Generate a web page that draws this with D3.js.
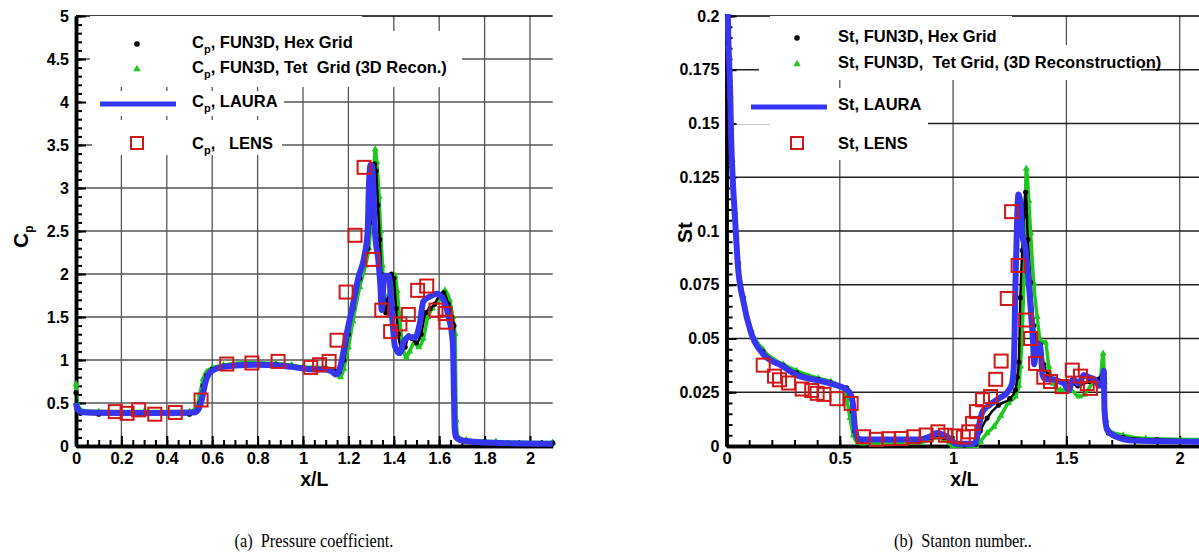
<!DOCTYPE html>
<html>
<head>
<meta charset="utf-8">
<script src="https://cdn.jsdelivr.net/npm/d3@7"></script>
<style>
  body { margin: 0; background: #fff; }
  svg { display: block; font-family: "Liberation Sans", Arial, Helvetica, sans-serif; }
</style>
</head>
<body>
<svg id="chart" width="1199" height="552"></svg>
<script>
// ---- values: [x/L, value] ----

// (a) pressure coefficient
const cpHex = [[0,0.62],[0.005,0.45],[0.02,0.38],[0.1,0.37],[0.3,0.37],[0.5,0.37],[0.53,0.40],[0.545,0.5],[0.56,0.7],[0.575,0.82],[0.6,0.89],[0.65,0.93],[0.75,0.95],[0.88,0.95],[0.95,0.93],[1.0,0.91],[1.1,0.9],[1.14,0.87],[1.16,0.86],[1.18,1.0],[1.2,1.3],[1.22,1.6],[1.25,1.95],[1.27,2.15],[1.285,2.3],[1.295,2.6],[1.305,3.0],[1.315,3.28],[1.322,3.2],[1.33,2.8],[1.338,2.4],[1.345,2.0],[1.355,1.7],[1.365,1.55],[1.375,1.7],[1.39,2.0],[1.4,1.95],[1.41,1.6],[1.42,1.3],[1.435,1.12],[1.45,1.15],[1.465,1.28],[1.48,1.25],[1.5,1.2],[1.52,1.3],[1.54,1.55],[1.56,1.6],[1.58,1.65],[1.6,1.75],[1.62,1.78],[1.64,1.65],[1.655,1.5],[1.665,1.4],[1.668,0.45],[1.672,0.15],[1.69,0.08],[1.8,0.05],[2.1,0.035]];
const cpTet = [[0,0.72],[0.005,0.5],[0.02,0.42],[0.1,0.40],[0.3,0.40],[0.5,0.40],[0.53,0.45],[0.545,0.6],[0.56,0.78],[0.575,0.86],[0.6,0.91],[0.65,0.94],[0.75,0.97],[0.88,0.96],[0.95,0.94],[1.0,0.92],[1.1,0.91],[1.14,0.88],[1.165,0.8],[1.18,0.9],[1.2,1.15],[1.22,1.45],[1.25,1.85],[1.275,2.1],[1.29,2.3],[1.3,2.6],[1.31,3.0],[1.318,3.45],[1.325,3.3],[1.335,2.9],[1.342,2.5],[1.35,2.1],[1.36,1.75],[1.375,1.6],[1.39,1.8],[1.405,1.98],[1.415,1.8],[1.425,1.5],[1.44,1.15],[1.455,1.03],[1.47,1.1],[1.49,1.2],[1.51,1.15],[1.53,1.25],[1.55,1.5],[1.57,1.6],[1.6,1.7],[1.625,1.81],[1.645,1.7],[1.66,1.5],[1.67,1.3],[1.675,0.3],[1.685,0.1],[1.72,0.07],[1.85,0.05],[2.1,0.04]];
const cpLaura = [[0,0.50],[0.005,0.44],[0.02,0.40],[0.05,0.39],[0.2,0.385],[0.4,0.385],[0.52,0.39],[0.54,0.43],[0.555,0.55],[0.57,0.74],[0.585,0.84],[0.61,0.89],[0.65,0.92],[0.7,0.935],[0.8,0.945],[0.88,0.94],[0.95,0.92],[1.0,0.90],[1.06,0.89],[1.1,0.89],[1.13,0.86],[1.145,0.83],[1.16,0.88],[1.175,1.05],[1.19,1.27],[1.215,1.58],[1.245,1.97],[1.27,2.2],[1.285,2.5],[1.29,3.0],[1.298,3.27],[1.305,3.25],[1.31,3.0],[1.318,2.45],[1.332,2.16],[1.34,1.9],[1.347,1.58],[1.355,1.9],[1.362,1.98],[1.378,1.98],[1.39,1.6],[1.405,1.16],[1.425,1.08],[1.445,1.22],[1.47,1.27],[1.493,1.26],[1.515,1.43],[1.53,1.68],[1.56,1.74],[1.59,1.77],[1.615,1.72],[1.64,1.52],[1.66,1.2],[1.665,0.6],[1.668,0.2],[1.675,0.1],[1.69,0.07],[1.75,0.05],[1.87,0.035],[2.1,0.025]];
const cpLens = [[0.173,0.40],[0.225,0.38],[0.276,0.42],[0.347,0.37],[0.437,0.39],[0.551,0.535],[0.664,0.953],[0.775,0.965],[0.89,0.984],[1.034,0.914],[1.073,0.945],[1.115,0.984],[1.15,1.23],[1.19,1.79],[1.229,2.45],[1.269,3.24],[1.307,2.17],[1.347,1.58],[1.386,1.33],[1.427,1.42],[1.464,1.53],[1.505,1.81],[1.545,1.86],[1.586,1.58],[1.626,1.54],[1.63,1.44]];

// (b) Stanton number
const stHex = [[0.002,0.21],[0.008,0.185],[0.017,0.162],[0.02,0.147],[0.025,0.132],[0.037,0.108],[0.051,0.085],[0.073,0.069],[0.109,0.053],[0.16,0.044],[0.25,0.0375],[0.31,0.034],[0.405,0.031],[0.46,0.0295],[0.53,0.027],[0.545,0.024],[0.555,0.016],[0.565,0.007],[0.58,0.003],[0.6,0.0025],[0.85,0.0025],[0.9,0.004],[0.93,0.0052],[0.96,0.004],[1.0,0.002],[1.05,0.0005],[1.1,0.0008],[1.12,0.007],[1.15,0.013],[1.2,0.019],[1.25,0.022],[1.275,0.026],[1.283,0.032],[1.29,0.039],[1.297,0.069],[1.305,0.091],[1.312,0.107],[1.32,0.118],[1.33,0.096],[1.342,0.076],[1.356,0.056],[1.37,0.048],[1.385,0.047],[1.4,0.038],[1.42,0.033],[1.45,0.031],[1.5,0.03],[1.55,0.028],[1.6,0.03],[1.64,0.031],[1.665,0.034],[1.672,0.012],[1.685,0.006],[1.75,0.004],[1.9,0.003],[2.1,0.0025]];
const stTet = [[0.002,0.21],[0.008,0.186],[0.017,0.163],[0.02,0.148],[0.025,0.133],[0.037,0.109],[0.051,0.086],[0.073,0.07],[0.109,0.054],[0.16,0.045],[0.25,0.038],[0.31,0.035],[0.405,0.0315],[0.46,0.03],[0.51,0.027],[0.53,0.022],[0.545,0.013],[0.56,0.005],[0.58,0.0015],[0.6,0.0012],[0.85,0.0015],[0.9,0.003],[0.93,0.004],[0.96,0.003],[1.0,0],[1.1,0],[1.12,0.002],[1.15,0.006],[1.18,0.009],[1.21,0.014],[1.244,0.02],[1.275,0.023],[1.29,0.028],[1.297,0.037],[1.305,0.052],[1.312,0.0756],[1.318,0.105],[1.323,0.129],[1.334,0.114],[1.342,0.099],[1.356,0.0756],[1.371,0.06],[1.386,0.049],[1.408,0.048],[1.422,0.037],[1.444,0.029],[1.474,0.026],[1.52,0.026],[1.555,0.023],[1.58,0.024],[1.62,0.03],[1.65,0.032],[1.662,0.043],[1.668,0.03],[1.675,0.012],[1.69,0.007],[1.75,0.005],[1.85,0.0035],[2.1,0.003]];
const stLaura = [[0.002,0.22],[0.008,0.19],[0.017,0.161],[0.02,0.145],[0.025,0.13],[0.037,0.107],[0.051,0.083],[0.073,0.068],[0.109,0.0524],[0.16,0.043],[0.25,0.037],[0.31,0.033],[0.405,0.0305],[0.46,0.029],[0.534,0.026],[0.548,0.024],[0.558,0.0195],[0.566,0.009],[0.58,0.0035],[0.6,0.003],[0.85,0.003],[0.9,0.0045],[0.93,0.006],[0.96,0.005],[0.99,0.003],[1.01,0.001],[1.09,0.001],[1.1,0.002],[1.115,0.01],[1.13,0.016],[1.16,0.019],[1.2,0.022],[1.24,0.025],[1.26,0.029],[1.268,0.037],[1.275,0.075],[1.283,0.107],[1.288,0.117],[1.298,0.112],[1.305,0.099],[1.32,0.091],[1.334,0.0756],[1.345,0.06],[1.352,0.05],[1.358,0.038],[1.368,0.048],[1.385,0.046],[1.395,0.033],[1.41,0.031],[1.44,0.031],[1.47,0.03],[1.49,0.029],[1.51,0.026],[1.53,0.031],[1.555,0.029],[1.577,0.033],[1.6,0.032],[1.625,0.031],[1.645,0.028],[1.66,0.03],[1.665,0.035],[1.668,0.017],[1.68,0.0075],[1.72,0.0043],[1.8,0.0025],[2.1,0.002]];
const stLens = [[0.162,0.0376],[0.212,0.0325],[0.234,0.0308],[0.274,0.0293],[0.334,0.0265],[0.376,0.0258],[0.4,0.0245],[0.43,0.024],[0.487,0.022],[0.55,0.0198],[0.605,0.0043],[0.661,0.0031],[0.716,0.0034],[0.771,0.0035],[0.826,0.0043],[0.881,0.0051],[0.933,0.0066],[0.966,0.005],[1.007,0.0047],[1.045,0.0042],[1.069,0.0066],[1.086,0.0105],[1.103,0.016],[1.13,0.0215],[1.165,0.023],[1.188,0.031],[1.212,0.0395],[1.239,0.0686],[1.258,0.109],[1.287,0.084],[1.32,0.0586],[1.342,0.05],[1.364,0.0384],[1.4,0.032],[1.43,0.03],[1.481,0.0276],[1.526,0.0353],[1.562,0.0325],[1.592,0.029],[1.606,0.0268]];

// ticks
const cpXTicks = [0, 0.2, 0.4, 0.6, 0.8, 1, 1.2, 1.4, 1.6, 1.8, 2];
const cpYTicks = [0, 0.5, 1, 1.5, 2, 2.5, 3, 3.5, 4, 4.5, 5];
const stXTicks = [0, 0.5, 1, 1.5, 2];
const stYTicks = [0, 0.025, 0.05, 0.075, 0.1, 0.125, 0.15, 0.175, 0.2];

const cpLegend = [", FUN3D, Hex Grid", ", FUN3D, Tet  Grid (3D Recon.)", ", LAURA", ",   LENS"];
const stLegend = ["St, FUN3D, Hex Grid", "St, FUN3D,  Tet Grid, (3D Reconstruction)", "St, LAURA", "St, LENS"];
const captions = ["(a)  Pressure coefficient.", "(b)  Stanton number.."];

const BLUE = "#3636f2", GREEN = "#1ec81e", RED = "#d01818";
const svg = d3.select("#chart");
svg.append("rect").attr("width", 1199).attr("height", 552).attr("fill", "#fff");

function drawPanel(p) {
  const x = d3.scaleLinear().domain([0, 2.1]).range(p.xRange);
  const y = d3.scaleLinear().domain(p.yDomain).range([446, 16]);
  const g = svg.append("g");

  // grid
  g.append("g").selectAll("line").data(p.xTicks.filter(d => d > 0)).join("line")
    .attr("x1", d => x(d)).attr("x2", d => x(d)).attr("y1", y.range()[0]).attr("y2", y.range()[1])
    .attr("stroke", p.vGrid).attr("stroke-width", 1.3);
  g.append("g").selectAll("line").data(p.yTicks.filter(d => d > 0)).join("line")
    .attr("x1", x(0)).attr("x2", x(2.1)).attr("y1", d => y(d)).attr("y2", d => y(d))
    .attr("stroke", (d, i, a) => i === a.length - 1 ? "#000" : p.hGrid).attr("stroke-width", 1.3);

  // legend boxes hide the grid
  const lg = p.legend;
  const leg = g.append("g");
  lg.boxes.forEach(b => leg.append("rect").attr("x", b[0]).attr("y", b[1])
    .attr("width", b[2] - b[0]).attr("height", b[3] - b[1]).attr("fill", "#fff"));

  // axes
  const fmt = d3.format("~g");
  const ax = g.append("g").attr("transform", `translate(0,${y(0)})`);
  ax.call(d3.axisBottom(x).tickValues(p.xMinor).tickSize(-6).tickSizeOuter(0).tickFormat(""));
  const ax2 = g.append("g").attr("transform", `translate(0,${y(0)})`);
  ax2.call(d3.axisBottom(x).tickValues(p.xTicks).tickSize(-10).tickSizeOuter(0).tickPadding(5).tickFormat(fmt));
  const ay = g.append("g").attr("transform", `translate(${x(0)},0)`);
  ay.call(d3.axisLeft(y).tickValues(p.yMinor).tickSize(-6).tickSizeOuter(0).tickFormat(""));
  const ay2 = g.append("g").attr("transform", `translate(${x(0)},0)`);
  ay2.call(d3.axisLeft(y).tickValues(p.yTicks).tickSize(-10).tickSizeOuter(0).tickPadding(7).tickFormat(fmt));
  [ax, ax2, ay, ay2].forEach(a => {
    a.selectAll(".domain").attr("stroke", "#000").attr("stroke-width", 3.5);
    a.selectAll(".tick line").attr("stroke", "#000").attr("stroke-width", 2);
    a.selectAll("text").attr("fill", "#000").attr("font-weight", "bold")
      .attr("font-family", "'Liberation Sans', Arial, sans-serif");
  });
  ax2.selectAll(".tick text").attr("dy", "0.8em").attr("font-size", 16.5);
  ay2.selectAll(".tick text").attr("font-size", 16);

  // axis titles
  g.append("text").attr("x", (x(0) + x(2.1)) / 2).attr("y", 486).attr("text-anchor", "middle")
    .attr("font-size", 19.5).attr("font-weight", "bold").text("x/L");
  const yt = g.append("text").attr("transform", `translate(${p.yTitleX},${p.yTitleY}) rotate(-90)`)
    .attr("font-size", 21).attr("font-weight", "bold");
  yt.append("tspan").text(p.yTitle[0]);
  if (p.yTitle[1]) yt.append("tspan").attr("font-size", 12).attr("dy", 5).text(p.yTitle[1]);

  // series
  const clipId = "clip" + p.id;
  svg.append("clipPath").attr("id", clipId).append("rect")
    .attr("x", x(0) - 6).attr("y", 14).attr("width", x(2.1) - x(0) + 12).attr("height", 436);
  const s = g.append("g").attr("clip-path", `url(#${clipId})`);
  const line = d3.line().x(d => x(d[0])).y(d => y(d[1])).curve(d3.curveMonotoneX);

  s.append("path").datum(p.tet).attr("d", line).attr("fill", "none")
    .attr("stroke", GREEN).attr("stroke-width", 3.5).attr("stroke-linejoin", "round");
  s.append("g").selectAll("path").data(p.tet).join("path")
    .attr("transform", d => `translate(${x(d[0])},${y(d[1])})`)
    .attr("d", d3.symbol(d3.symbolTriangle, 22)).attr("fill", GREEN);
  s.append("path").datum(p.hex).attr("d", line).attr("fill", "none")
    .attr("stroke", "#000").attr("stroke-width", 2.5).attr("stroke-linejoin", "round");
  s.append("g").selectAll("circle").data(p.hex).join("circle")
    .attr("cx", d => x(d[0])).attr("cy", d => y(d[1])).attr("r", 2.6).attr("fill", "#000");
  s.append("path").datum(p.laura).attr("d", line).attr("fill", "none")
    .attr("stroke", BLUE).attr("stroke-width", 6).attr("stroke-linejoin", "round");
  s.append("g").selectAll("rect").data(p.lens).join("rect")
    .attr("x", d => x(d[0]) - 6.5).attr("y", d => y(d[1]) - 6.5)
    .attr("width", 13).attr("height", 13)
    .attr("fill", "none").attr("stroke", RED).attr("stroke-width", 2);

  // legend symbols and labels
  const ry = lg.rows;
  leg.append("circle").attr("cx", lg.symX).attr("cy", ry[0] + 2).attr("r", 2.8).attr("fill", "#000");
  leg.append("path").attr("transform", `translate(${lg.symX},${ry[1] + 2})`)
    .attr("d", d3.symbol(d3.symbolTriangle, 24)).attr("fill", GREEN);
  leg.append("line").attr("x1", lg.line[0]).attr("x2", lg.line[1])
    .attr("y1", ry[2] + 3).attr("y2", ry[2] + 3).attr("stroke", BLUE).attr("stroke-width", 5);
  leg.append("rect").attr("x", lg.symX - 6).attr("y", ry[3] - 6).attr("width", 12).attr("height", 12)
    .attr("fill", "none").attr("stroke", RED).attr("stroke-width", 2);

  p.labels.forEach((lab, i) => {
    const t = leg.append("text").attr("x", lg.textX).attr("y", ry[i] + 6)
      .attr("font-size", 16.5).attr("font-weight", "bold").attr("xml:space", "preserve")
      .style("white-space", "pre");
    if (p.sub) {
      t.append("tspan").text("C");
      t.append("tspan").attr("font-size", 11).attr("dy", 5).text("p");
      t.append("tspan").attr("dy", -5).text(lab);
    } else {
      t.text(lab);
    }
  });
}

drawPanel({
  id: "a", xRange: [76, 76 + 2.1 * 227], yDomain: [0, 5],
  xTicks: cpXTicks, yTicks: cpYTicks,
  xMinor: d3.range(0, 2.101, 0.05), yMinor: d3.range(0, 5.001, 0.1),
  vGrid: "#555", hGrid: "#555",
  yTitle: ["C", "p"], yTitleX: 28, yTitleY: 248,
  hex: cpHex, tet: cpTet, laura: cpLaura, lens: cpLens,
  labels: cpLegend, sub: true,
  legend: {
    rows: [42, 67, 101, 143], symX: 137, line: [100, 176], textX: 192,
    boxes: [[90, 16, 362, 58], [90, 31, 462, 87], [80, 91, 284, 116], [92, 120, 282, 155]]
  }
});

drawPanel({
  id: "b", xRange: [726.5, 726.5 + 2.1 * 226.6], yDomain: [0, 0.2],
  xTicks: stXTicks, yTicks: stYTicks,
  xMinor: d3.range(0, 2.101, 0.1), yMinor: d3.range(0, 0.2001, 0.005),
  vGrid: "#555", hGrid: "#222",
  yTitle: ["St"], yTitleX: 692, yTitleY: 243,
  hex: stHex, tet: stTet, laura: stLaura, lens: stLens,
  labels: stLegend, sub: false,
  legend: {
    rows: [36, 62, 104, 143], symX: 797, line: [751, 827], textX: 838,
    boxes: [[770, 16, 1012, 52], [759, 45, 1141, 80], [730, 88, 928, 124], [770, 124, 928, 160]]
  }
});

// captions, set in a narrow serif
[314, 963].forEach((cx, i) => {
  const t = svg.append("text").attr("x", cx).attr("y", 547).attr("text-anchor", "middle")
    .attr("font-family", "'Liberation Serif', 'Times New Roman', serif").attr("font-size", 18.5)
    .style("white-space", "pre").text(captions[i]);
  const w = t.node().getComputedTextLength();
  t.attr("textLength", w * 0.88).attr("lengthAdjust", "spacingAndGlyphs");
});
</script>
</body>
</html>
